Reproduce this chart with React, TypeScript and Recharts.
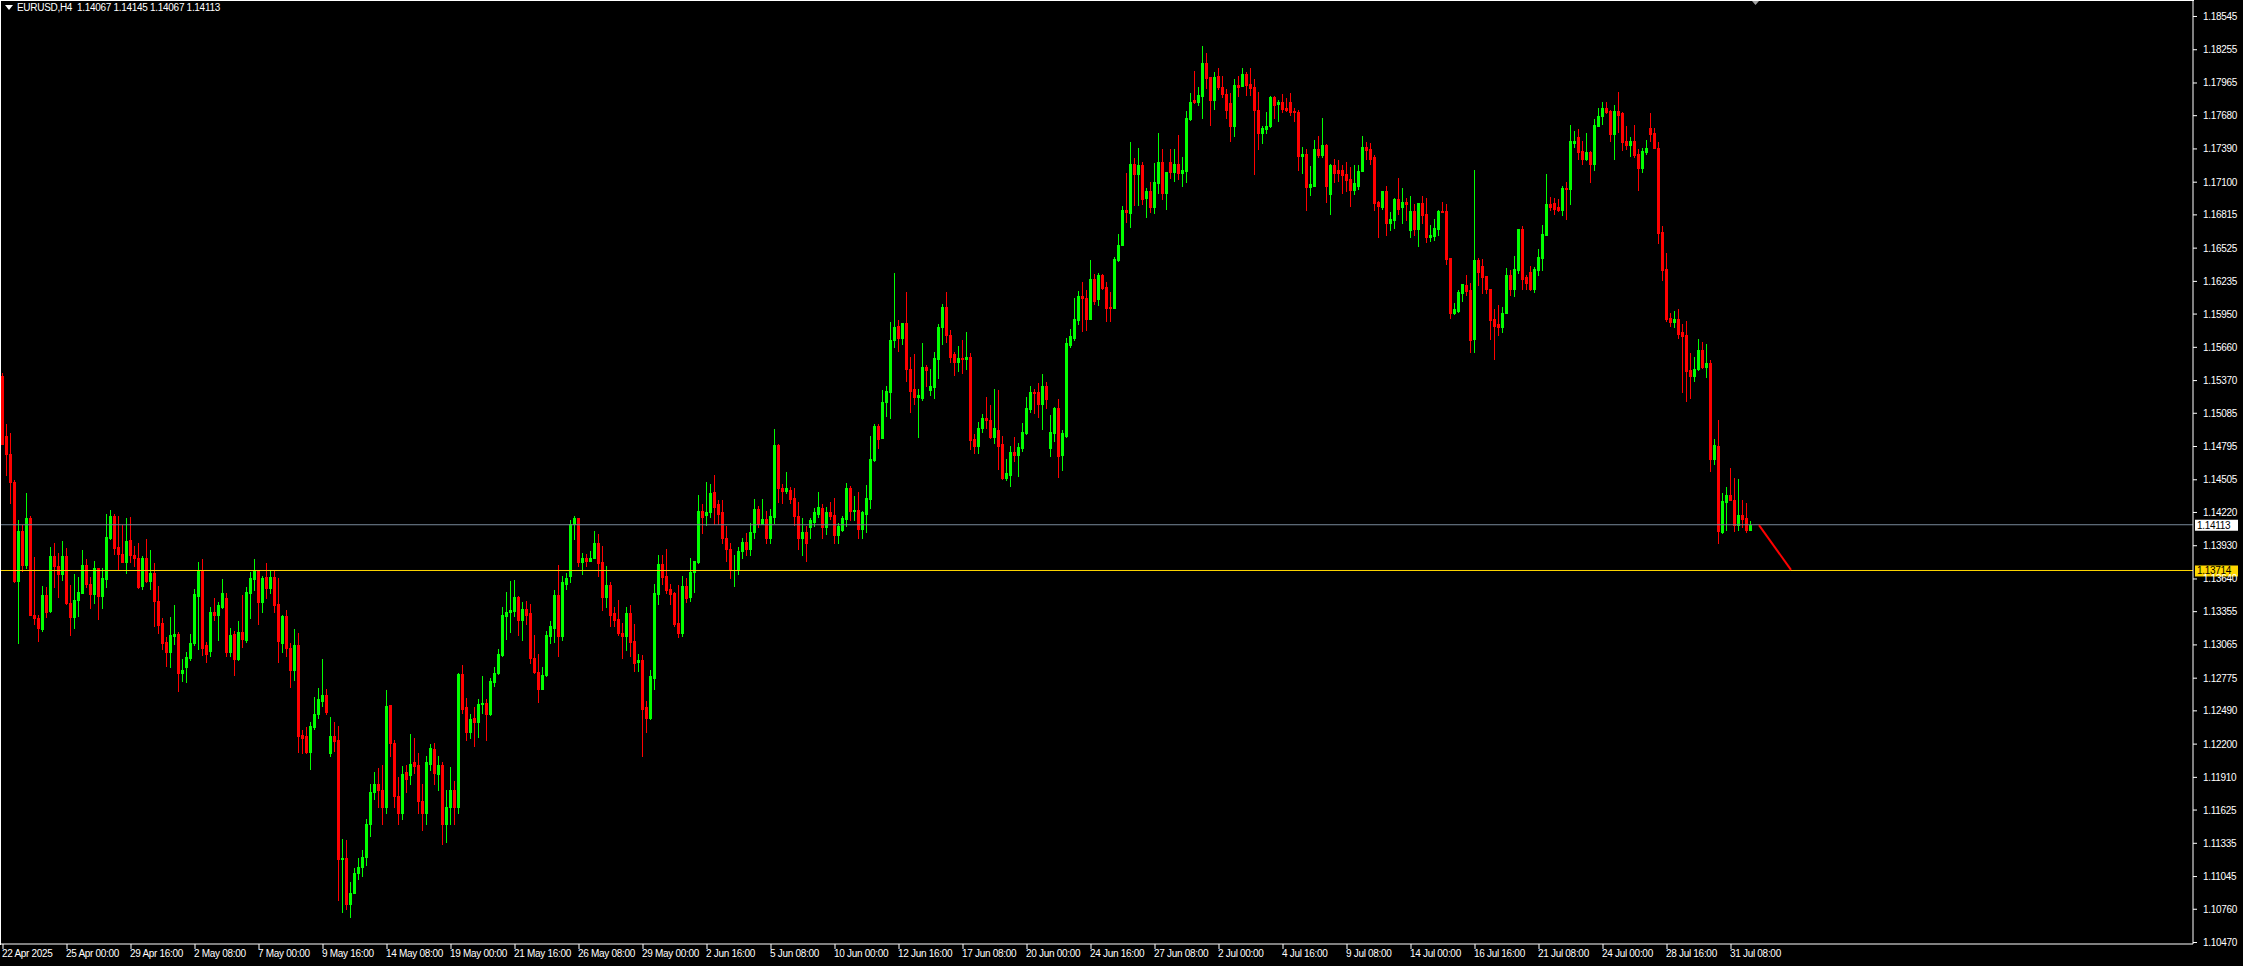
import React from 'react'
import { ComposedChart, Bar, XAxis, YAxis, ReferenceLine, ReferenceDot } from 'recharts'

const W = 2243
const H = 966
const FONT = '"Liberation Sans", Arial, sans-serif'

const SYMBOL = 'EURUSD,H4'
const LAST_BAR = [1.14067, 1.14145, 1.14067, 1.14113]
const BID = 1.14113
const SUPPORT = 1.13714
const ARROW = [{ i: 439, price: 1.1411 }, { i: 447, price: 1.1372 }]
const SHIFT_MARK = 438
const Y_MIN = 1.10457
const Y_MAX = 1.1868
const SLOTS = 548

const Y_TICKS = [
  1.18545, 1.18255, 1.17965, 1.1768, 1.1739, 1.171, 1.16815, 1.16525, 1.16235, 1.1595,
  1.1566, 1.1537, 1.15085, 1.14795, 1.14505, 1.1422, 1.1393, 1.1364, 1.13355, 1.13065,
  1.12775, 1.1249, 1.122, 1.1191, 1.11625, 1.11335, 1.11045, 1.1076, 1.1047,
]

// one label every 16 bars, starting with bar 0
const DATE_LABELS = [
  '22 Apr 2025', '25 Apr 00:00', '29 Apr 16:00', '2 May 08:00', '7 May 00:00', '9 May 16:00',
  '14 May 08:00', '19 May 00:00', '21 May 16:00', '26 May 08:00', '29 May 00:00', '2 Jun 16:00',
  '5 Jun 08:00', '10 Jun 00:00', '12 Jun 16:00', '17 Jun 08:00', '20 Jun 00:00', '24 Jun 16:00',
  '27 Jun 08:00', '2 Jul 00:00', '4 Jul 16:00', '9 Jul 08:00', '14 Jul 00:00', '16 Jul 16:00',
  '21 Jul 08:00', '24 Jul 00:00', '28 Jul 16:00', '31 Jul 08:00',
]
const LABEL_STEP = 16

// [open, high, low, close], one line per trading day
const CANDLES_APR = [
  [1.1541, 1.1544, 1.1482, 1.1482], [1.1489, 1.1499, 1.1455, 1.1473], [1.1473, 1.1491, 1.1430, 1.1449], [1.1449, 1.1450, 1.1361, 1.1362],
  [1.1362, 1.1415, 1.1308, 1.1406], [1.1406, 1.1411, 1.1371, 1.1376], [1.1376, 1.1439, 1.1374, 1.1417], [1.1417, 1.1419, 1.1333, 1.1333], [1.1333, 1.1383, 1.1325, 1.1330], [1.1330, 1.1333, 1.1310, 1.1321],
  [1.1320, 1.1358, 1.1319, 1.1350], [1.1350, 1.1357, 1.1331, 1.1335], [1.1336, 1.1392, 1.1335, 1.1384], [1.1384, 1.1395, 1.1357, 1.1375], [1.1375, 1.1387, 1.1348, 1.1368], [1.1368, 1.1397, 1.1363, 1.1384],
  [1.1384, 1.1391, 1.1342, 1.1343], [1.1343, 1.1359, 1.1315, 1.1331], [1.1331, 1.1368, 1.1321, 1.1346], [1.1346, 1.1366, 1.1332, 1.1353], [1.1352, 1.1389, 1.1352, 1.1376], [1.1376, 1.1381, 1.1357, 1.1360],
  [1.1360, 1.1366, 1.1339, 1.1351], [1.1351, 1.1380, 1.1343, 1.1374], [1.1374, 1.1374, 1.1329, 1.1349], [1.1349, 1.1374, 1.1339, 1.1365], [1.1364, 1.1421, 1.1357, 1.1401], [1.1400, 1.1424, 1.1399, 1.1419],
  [1.1419, 1.1421, 1.1386, 1.1391], [1.1392, 1.1419, 1.1373, 1.1386], [1.1386, 1.1411, 1.1379, 1.1379], [1.1379, 1.1417, 1.1369, 1.1397], [1.1398, 1.1418, 1.1379, 1.1385], [1.1385, 1.1393, 1.1375, 1.1382],
  [1.1382, 1.1395, 1.1356, 1.1357], [1.1358, 1.1384, 1.1355, 1.1382], [1.1382, 1.1399, 1.1361, 1.1362], [1.1362, 1.1389, 1.1355, 1.1369], [1.1369, 1.1378, 1.1323, 1.1345], [1.1345, 1.1358, 1.1317, 1.1324],
]

const CANDLES_MAY = [
  [1.1326, 1.1330, 1.1303, 1.1308], [1.1309, 1.1313, 1.1288, 1.1300], [1.1300, 1.1331, 1.1287, 1.1315], [1.1314, 1.1341, 1.1307, 1.1316], [1.1316, 1.1318, 1.1266, 1.1282], [1.1282, 1.1294, 1.1275, 1.1285],
  [1.1287, 1.1300, 1.1274, 1.1296], [1.1295, 1.1316, 1.1293, 1.1308], [1.1308, 1.1355, 1.1306, 1.1351], [1.1349, 1.1379, 1.1303, 1.1371], [1.1371, 1.1381, 1.1298, 1.1304], [1.1306, 1.1309, 1.1292, 1.1299],
  [1.1301, 1.1340, 1.1297, 1.1335], [1.1335, 1.1347, 1.1328, 1.1333], [1.1333, 1.1344, 1.1311, 1.1341], [1.1340, 1.1364, 1.1339, 1.1352], [1.1347, 1.1352, 1.1297, 1.1300], [1.1300, 1.1321, 1.1297, 1.1315],
  [1.1316, 1.1319, 1.1280, 1.1294], [1.1294, 1.1327, 1.1293, 1.1318], [1.1318, 1.1350, 1.1305, 1.1312], [1.1311, 1.1357, 1.1309, 1.1353], [1.1352, 1.1370, 1.1330, 1.1365], [1.1364, 1.1381, 1.1354, 1.1371],
  [1.1371, 1.1372, 1.1325, 1.1344], [1.1344, 1.1367, 1.1335, 1.1365], [1.1366, 1.1378, 1.1347, 1.1356], [1.1356, 1.1372, 1.1352, 1.1366], [1.1366, 1.1371, 1.1335, 1.1341], [1.1342, 1.1365, 1.1292, 1.1310],
  [1.1308, 1.1333, 1.1300, 1.1332], [1.1332, 1.1337, 1.1297, 1.1304], [1.1304, 1.1308, 1.1270, 1.1285], [1.1285, 1.1320, 1.1276, 1.1306], [1.1306, 1.1317, 1.1213, 1.1227], [1.1228, 1.1232, 1.1212, 1.1225],
  [1.1227, 1.1235, 1.1212, 1.1213], [1.1213, 1.1239, 1.1198, 1.1236], [1.1235, 1.1261, 1.1233, 1.1246], [1.1246, 1.1269, 1.1243, 1.1259], [1.1258, 1.1294, 1.1253, 1.1263], [1.1263, 1.1268, 1.1246, 1.1248],
  [1.1212, 1.1244, 1.1210, 1.1227], [1.1227, 1.1239, 1.1214, 1.1223], [1.1224, 1.1236, 1.1084, 1.1120], [1.1120, 1.1137, 1.1074, 1.1121], [1.1121, 1.1136, 1.1076, 1.1081], [1.1081, 1.1100, 1.1069, 1.1090],
  [1.1090, 1.1112, 1.1090, 1.1108], [1.1108, 1.1121, 1.1102, 1.1113], [1.1113, 1.1128, 1.1105, 1.1122], [1.1122, 1.1155, 1.1115, 1.1150], [1.1150, 1.1185, 1.1140, 1.1178], [1.1178, 1.1196, 1.1172, 1.1185],
  [1.1185, 1.1199, 1.1165, 1.1180], [1.1180, 1.1202, 1.1150, 1.1165], [1.1165, 1.1267, 1.1160, 1.1253], [1.1254, 1.1254, 1.1210, 1.1221], [1.1221, 1.1224, 1.1165, 1.1175], [1.1175, 1.1191, 1.1150, 1.1160],
  [1.1160, 1.1201, 1.1155, 1.1194], [1.1196, 1.1202, 1.1178, 1.1190], [1.1193, 1.1229, 1.1185, 1.1203], [1.1204, 1.1225, 1.1195, 1.1201], [1.1202, 1.1212, 1.1160, 1.1170], [1.1170, 1.1185, 1.1145, 1.1160],
  [1.1160, 1.1210, 1.1150, 1.1204], [1.1203, 1.1220, 1.1197, 1.1217], [1.1216, 1.1221, 1.1185, 1.1195], [1.1194, 1.1210, 1.1180, 1.1202], [1.1202, 1.1204, 1.1133, 1.1150], [1.1150, 1.1180, 1.1135, 1.1165],
  [1.1165, 1.1200, 1.1150, 1.1180], [1.1180, 1.1188, 1.1150, 1.1165], [1.1165, 1.1282, 1.1160, 1.1281], [1.1281, 1.1289, 1.1247, 1.1251], [1.1252, 1.1260, 1.1224, 1.1231], [1.1231, 1.1246, 1.1225, 1.1242],
  [1.1243, 1.1252, 1.1218, 1.1239], [1.1239, 1.1259, 1.1226, 1.1255], [1.1255, 1.1279, 1.1247, 1.1256], [1.1256, 1.1259, 1.1224, 1.1246], [1.1246, 1.1278, 1.1245, 1.1275], [1.1274, 1.1287, 1.1271, 1.1282],
  [1.1282, 1.1303, 1.1281, 1.1299], [1.1298, 1.1340, 1.1297, 1.1333], [1.1332, 1.1353, 1.1312, 1.1335], [1.1335, 1.1362, 1.1318, 1.1337], [1.1336, 1.1363, 1.1332, 1.1348], [1.1348, 1.1349, 1.1315, 1.1328],
  [1.1328, 1.1344, 1.1311, 1.1338], [1.1338, 1.1345, 1.1325, 1.1333], [1.1334, 1.1342, 1.1291, 1.1295], [1.1295, 1.1315, 1.1282, 1.1283], [1.1283, 1.1299, 1.1257, 1.1268], [1.1268, 1.1287, 1.1268, 1.1280],
  [1.1280, 1.1319, 1.1279, 1.1315], [1.1314, 1.1327, 1.1308, 1.1323], [1.1321, 1.1354, 1.1309, 1.1350], [1.1350, 1.1376, 1.1297, 1.1314], [1.1314, 1.1367, 1.1311, 1.1361], [1.1360, 1.1369, 1.1355, 1.1365],
  [1.1367, 1.1415, 1.1361, 1.1412], [1.1412, 1.1419, 1.1399, 1.1417], [1.1417, 1.1417, 1.1375, 1.1379], [1.1379, 1.1387, 1.1368, 1.1382], [1.1382, 1.1386, 1.1375, 1.1380], [1.1380, 1.1388, 1.1380, 1.1382],
  [1.1382, 1.1406, 1.1382, 1.1395], [1.1395, 1.1403, 1.1367, 1.1378], [1.1379, 1.1393, 1.1337, 1.1348], [1.1348, 1.1375, 1.1340, 1.1359], [1.1359, 1.1361, 1.1323, 1.1333], [1.1334, 1.1340, 1.1323, 1.1328],
  [1.1329, 1.1346, 1.1315, 1.1317], [1.1317, 1.1326, 1.1295, 1.1314], [1.1314, 1.1340, 1.1302, 1.1334], [1.1334, 1.1341, 1.1297, 1.1309], [1.1310, 1.1325, 1.1284, 1.1291], [1.1292, 1.1299, 1.1284, 1.1293],
  [1.1293, 1.1298, 1.1210, 1.1251], [1.1252, 1.1258, 1.1231, 1.1243], [1.1243, 1.1285, 1.1242, 1.1279], [1.1278, 1.1360, 1.1268, 1.1352], [1.1351, 1.1385, 1.1342, 1.1377], [1.1377, 1.1385, 1.1360, 1.1366],
  [1.1367, 1.1390, 1.1352, 1.1354], [1.1355, 1.1360, 1.1342, 1.1351], [1.1352, 1.1353, 1.1323, 1.1325], [1.1326, 1.1359, 1.1313, 1.1317], [1.1317, 1.1367, 1.1314, 1.1358], [1.1358, 1.1365, 1.1344, 1.1347],
]

const CANDLES_JUN = [
  [1.1348, 1.1382, 1.1345, 1.1370], [1.1370, 1.1380, 1.1353, 1.1380], [1.1379, 1.1437, 1.1378, 1.1423], [1.1423, 1.1429, 1.1404, 1.1418], [1.1420, 1.1449, 1.1411, 1.1422], [1.1422, 1.1447, 1.1418, 1.1439],
  [1.1440, 1.1455, 1.1412, 1.1427], [1.1429, 1.1433, 1.1412, 1.1421], [1.1422, 1.1433, 1.1395, 1.1400], [1.1400, 1.1410, 1.1380, 1.1390], [1.1390, 1.1395, 1.1365, 1.1372], [1.1372, 1.1385, 1.1358, 1.1372],
  [1.1372, 1.1392, 1.1368, 1.1388], [1.1388, 1.1400, 1.1382, 1.1396], [1.1396, 1.1404, 1.1385, 1.1390], [1.1390, 1.1413, 1.1385, 1.1405], [1.1405, 1.1434, 1.1400, 1.1425], [1.1425, 1.1428, 1.1409, 1.1412],
  [1.1412, 1.1434, 1.1412, 1.1416], [1.1416, 1.1423, 1.1395, 1.1400], [1.1400, 1.1425, 1.1395, 1.1419], [1.1418, 1.1495, 1.1413, 1.1481], [1.1481, 1.1482, 1.1431, 1.1443], [1.1443, 1.1447, 1.1430, 1.1441],
  [1.1441, 1.1457, 1.1439, 1.1443], [1.1442, 1.1444, 1.1430, 1.1434], [1.1435, 1.1443, 1.1411, 1.1419], [1.1419, 1.1431, 1.1390, 1.1400], [1.1400, 1.1417, 1.1385, 1.1405], [1.1405, 1.1410, 1.1380, 1.1395],
  [1.1409, 1.1417, 1.1400, 1.1415], [1.1414, 1.1426, 1.1410, 1.1422], [1.1421, 1.1440, 1.1418, 1.1427], [1.1426, 1.1429, 1.1400, 1.1409], [1.1409, 1.1427, 1.1403, 1.1422], [1.1422, 1.1431, 1.1416, 1.1419],
  [1.1420, 1.1435, 1.1395, 1.1402], [1.1402, 1.1413, 1.1395, 1.1410], [1.1407, 1.1419, 1.1406, 1.1417], [1.1416, 1.1448, 1.1410, 1.1443], [1.1443, 1.1445, 1.1415, 1.1423], [1.1423, 1.1436, 1.1415, 1.1424],
  [1.1424, 1.1440, 1.1400, 1.1408], [1.1408, 1.1423, 1.1400, 1.1422], [1.1421, 1.1446, 1.1405, 1.1435], [1.1434, 1.1489, 1.1426, 1.1469], [1.1468, 1.1499, 1.1467, 1.1497], [1.1497, 1.1499, 1.1478, 1.1486],
  [1.1487, 1.1529, 1.1487, 1.1518], [1.1518, 1.1532, 1.1506, 1.1528], [1.1527, 1.1588, 1.1504, 1.1572], [1.1572, 1.1631, 1.1566, 1.1584], [1.1585, 1.1590, 1.1563, 1.1574], [1.1574, 1.1587, 1.1569, 1.1587],
  [1.1587, 1.1614, 1.1537, 1.1547], [1.1547, 1.1558, 1.1510, 1.1528], [1.1530, 1.1560, 1.1517, 1.1523], [1.1523, 1.1530, 1.1488, 1.1524], [1.1522, 1.1570, 1.1520, 1.1549], [1.1549, 1.1551, 1.1532, 1.1546],
  [1.1529, 1.1547, 1.1524, 1.1532], [1.1531, 1.1562, 1.1522, 1.1557], [1.1556, 1.1586, 1.1539, 1.1584], [1.1584, 1.1604, 1.1569, 1.1601], [1.1601, 1.1614, 1.1571, 1.1577], [1.1577, 1.1581, 1.1553, 1.1558],
  [1.1560, 1.1562, 1.1542, 1.1553], [1.1553, 1.1567, 1.1545, 1.1557], [1.1557, 1.1572, 1.1544, 1.1556], [1.1556, 1.1579, 1.1547, 1.1558], [1.1558, 1.1561, 1.1477, 1.1485], [1.1486, 1.1490, 1.1474, 1.1480],
  [1.1480, 1.1501, 1.1474, 1.1496], [1.1496, 1.1508, 1.1492, 1.1504], [1.1504, 1.1523, 1.1496, 1.1503], [1.1503, 1.1516, 1.1487, 1.1488], [1.1488, 1.1530, 1.1483, 1.1496], [1.1494, 1.1529, 1.1460, 1.1480],
  [1.1482, 1.1489, 1.1451, 1.1452], [1.1452, 1.1469, 1.1450, 1.1456], [1.1455, 1.1480, 1.1445, 1.1475], [1.1475, 1.1488, 1.1467, 1.1472], [1.1472, 1.1483, 1.1454, 1.1479], [1.1478, 1.1500, 1.1476, 1.1492],
  [1.1491, 1.1523, 1.1490, 1.1513], [1.1512, 1.1532, 1.1510, 1.1527], [1.1527, 1.1530, 1.1509, 1.1526], [1.1527, 1.1535, 1.1505, 1.1517], [1.1517, 1.1543, 1.1495, 1.1532], [1.1532, 1.1536, 1.1513, 1.1521],
  [1.1478, 1.1507, 1.1471, 1.1492], [1.1491, 1.1514, 1.1484, 1.1513], [1.1513, 1.1521, 1.1453, 1.1471], [1.1472, 1.1494, 1.1459, 1.1491], [1.1489, 1.1574, 1.1488, 1.1570], [1.1568, 1.1582, 1.1566, 1.1576],
  [1.1574, 1.1609, 1.1572, 1.1591], [1.1590, 1.1615, 1.1586, 1.1611], [1.1611, 1.1623, 1.1580, 1.1609], [1.1609, 1.1616, 1.1581, 1.1591], [1.1591, 1.1642, 1.1591, 1.1626], [1.1626, 1.1630, 1.1604, 1.1606],
  [1.1608, 1.1631, 1.1603, 1.1629], [1.1629, 1.1630, 1.1617, 1.1618], [1.1619, 1.1623, 1.1589, 1.1600], [1.1601, 1.1614, 1.1589, 1.1600], [1.1600, 1.1645, 1.1600, 1.1643], [1.1642, 1.1665, 1.1641, 1.1655],
  [1.1655, 1.1689, 1.1655, 1.1686], [1.1686, 1.1718, 1.1675, 1.1684], [1.1683, 1.1745, 1.1671, 1.1726], [1.1726, 1.1731, 1.1690, 1.1717], [1.1717, 1.1740, 1.1690, 1.1725], [1.1725, 1.1728, 1.1691, 1.1695],
  [1.1696, 1.1705, 1.1680, 1.1702], [1.1702, 1.1710, 1.1684, 1.1688], [1.1688, 1.1727, 1.1683, 1.1710], [1.1709, 1.1753, 1.1701, 1.1728], [1.1728, 1.1739, 1.1695, 1.1701], [1.1701, 1.1719, 1.1687, 1.1719],
  [1.1728, 1.1739, 1.1714, 1.1719], [1.1719, 1.1739, 1.1711, 1.1726], [1.1726, 1.1751, 1.1713, 1.1718], [1.1718, 1.1732, 1.1707, 1.1721], [1.1720, 1.1772, 1.1710, 1.1766], [1.1765, 1.1788, 1.1764, 1.1780],
]

const CANDLES_JUL = [
  [1.1782, 1.1807, 1.1779, 1.1780], [1.1780, 1.1793, 1.1777, 1.1786], [1.1785, 1.1829, 1.1766, 1.1814], [1.1814, 1.1823, 1.1792, 1.1801], [1.1802, 1.1802, 1.1760, 1.1782], [1.1782, 1.1806, 1.1774, 1.1802],
  [1.1803, 1.1810, 1.1791, 1.1793], [1.1793, 1.1803, 1.1784, 1.1787], [1.1787, 1.1791, 1.1766, 1.1773], [1.1779, 1.1788, 1.1746, 1.1759], [1.1759, 1.1800, 1.1750, 1.1795], [1.1795, 1.1803, 1.1785, 1.1793],
  [1.1794, 1.1810, 1.1794, 1.1804], [1.1804, 1.1806, 1.1786, 1.1795], [1.1796, 1.1810, 1.1786, 1.1792], [1.1793, 1.1800, 1.1717, 1.1773], [1.1773, 1.1789, 1.1739, 1.1753], [1.1753, 1.1759, 1.1744, 1.1757],
  [1.1756, 1.1771, 1.1753, 1.1759], [1.1759, 1.1785, 1.1758, 1.1784], [1.1784, 1.1785, 1.1766, 1.1777], [1.1778, 1.1782, 1.1763, 1.1780], [1.1780, 1.1787, 1.1771, 1.1774], [1.1775, 1.1783, 1.1772, 1.1773],
  [1.1780, 1.1788, 1.1769, 1.1771], [1.1772, 1.1775, 1.1763, 1.1771], [1.1771, 1.1773, 1.1721, 1.1733], [1.1733, 1.1741, 1.1718, 1.1735], [1.1735, 1.1739, 1.1686, 1.1706], [1.1706, 1.1724, 1.1699, 1.1708],
  [1.1707, 1.1747, 1.1707, 1.1739], [1.1739, 1.1750, 1.1732, 1.1734], [1.1734, 1.1766, 1.1732, 1.1742], [1.1742, 1.1743, 1.1693, 1.1707], [1.1700, 1.1726, 1.1682, 1.1725], [1.1725, 1.1730, 1.1710, 1.1718],
  [1.1721, 1.1729, 1.1711, 1.1718], [1.1721, 1.1725, 1.1701, 1.1716], [1.1717, 1.1728, 1.1702, 1.1712], [1.1713, 1.1723, 1.1689, 1.1703], [1.1703, 1.1725, 1.1700, 1.1709], [1.1707, 1.1725, 1.1704, 1.1720],
  [1.1720, 1.1750, 1.1720, 1.1741], [1.1741, 1.1745, 1.1730, 1.1738], [1.1739, 1.1744, 1.1726, 1.1730], [1.1732, 1.1734, 1.1686, 1.1692], [1.1693, 1.1694, 1.1662, 1.1689], [1.1688, 1.1702, 1.1687, 1.1702],
  [1.1702, 1.1707, 1.1664, 1.1674], [1.1674, 1.1684, 1.1668, 1.1678], [1.1677, 1.1696, 1.1670, 1.1695], [1.1695, 1.1714, 1.1682, 1.1687], [1.1688, 1.1705, 1.1674, 1.1693], [1.1693, 1.1696, 1.1677, 1.1691],
  [1.1668, 1.1698, 1.1662, 1.1685], [1.1685, 1.1691, 1.1664, 1.1669], [1.1669, 1.1692, 1.1654, 1.1692], [1.1692, 1.1698, 1.1674, 1.1681], [1.1682, 1.1696, 1.1658, 1.1662], [1.1662, 1.1673, 1.1659, 1.1664],
  [1.1663, 1.1678, 1.1660, 1.1670], [1.1669, 1.1686, 1.1664, 1.1685], [1.1685, 1.1693, 1.1684, 1.1684], [1.1685, 1.1691, 1.1639, 1.1643], [1.1644, 1.1644, 1.1592, 1.1596], [1.1596, 1.1605, 1.1595, 1.1599],
  [1.1598, 1.1616, 1.1597, 1.1614], [1.1613, 1.1621, 1.1606, 1.1621], [1.1620, 1.1629, 1.1612, 1.1615], [1.1616, 1.1622, 1.1562, 1.1572], [1.1573, 1.1721, 1.1562, 1.1642], [1.1642, 1.1644, 1.1620, 1.1632],
  [1.1637, 1.1643, 1.1613, 1.1627], [1.1628, 1.1628, 1.1613, 1.1617], [1.1617, 1.1617, 1.1573, 1.1590], [1.1591, 1.1599, 1.1556, 1.1585], [1.1586, 1.1603, 1.1577, 1.1584], [1.1584, 1.1601, 1.1579, 1.1596],
  [1.1596, 1.1635, 1.1596, 1.1629], [1.1629, 1.1633, 1.1612, 1.1617], [1.1617, 1.1646, 1.1611, 1.1634], [1.1633, 1.1669, 1.1631, 1.1669], [1.1669, 1.1672, 1.1617, 1.1626], [1.1627, 1.1629, 1.1617, 1.1622],
  [1.1632, 1.1637, 1.1616, 1.1617], [1.1617, 1.1636, 1.1614, 1.1634], [1.1633, 1.1652, 1.1629, 1.1645], [1.1644, 1.1673, 1.1633, 1.1665], [1.1664, 1.1717, 1.1664, 1.1691], [1.1691, 1.1697, 1.1686, 1.1688],
  [1.1692, 1.1696, 1.1682, 1.1687], [1.1688, 1.1695, 1.1685, 1.1686], [1.1686, 1.1707, 1.1681, 1.1705], [1.1705, 1.1710, 1.1678, 1.1704], [1.1704, 1.1760, 1.1691, 1.1746], [1.1744, 1.1755, 1.1741, 1.1746],
  [1.1749, 1.1756, 1.1730, 1.1736], [1.1737, 1.1746, 1.1726, 1.1730], [1.1730, 1.1753, 1.1729, 1.1736], [1.1736, 1.1737, 1.1710, 1.1726], [1.1726, 1.1765, 1.1721, 1.1760], [1.1759, 1.1775, 1.1759, 1.1768],
  [1.1768, 1.1780, 1.1761, 1.1775], [1.1775, 1.1780, 1.1770, 1.1771], [1.1772, 1.1773, 1.1746, 1.1752], [1.1752, 1.1777, 1.1730, 1.1772], [1.1772, 1.1789, 1.1754, 1.1769], [1.1770, 1.1771, 1.1738, 1.1745],
  [1.1746, 1.1759, 1.1739, 1.1742], [1.1742, 1.1749, 1.1733, 1.1746], [1.1746, 1.1760, 1.1732, 1.1734], [1.1735, 1.1739, 1.1703, 1.1722], [1.1722, 1.1740, 1.1719, 1.1737], [1.1736, 1.1747, 1.1735, 1.1740],
  [1.1757, 1.1770, 1.1746, 1.1752], [1.1753, 1.1757, 1.1740, 1.1740], [1.1740, 1.1745, 1.1657, 1.1666], [1.1667, 1.1672, 1.1625, 1.1633], [1.1634, 1.1648, 1.1589, 1.1591], [1.1592, 1.1596, 1.1585, 1.1588],
  [1.1588, 1.1598, 1.1584, 1.1591], [1.1591, 1.1599, 1.1574, 1.1578], [1.1579, 1.1586, 1.1527, 1.1576], [1.1577, 1.1589, 1.1519, 1.1545], [1.1546, 1.1561, 1.1522, 1.1541], [1.1541, 1.1558, 1.1537, 1.1547],
  [1.1547, 1.1573, 1.1546, 1.1564], [1.1564, 1.1571, 1.1548, 1.1549], [1.1549, 1.1569, 1.1540, 1.1552], [1.1552, 1.1555, 1.1458, 1.1469], [1.1469, 1.1486, 1.1464, 1.1481], [1.1480, 1.1503, 1.1395, 1.1406],
  [1.1405, 1.1439, 1.1404, 1.1432], [1.1431, 1.1444, 1.1407, 1.1437], [1.1437, 1.1461, 1.1433, 1.1433], [1.1433, 1.1452, 1.1406, 1.1411], [1.1411, 1.1451, 1.1407, 1.1420], [1.1420, 1.1433, 1.1409, 1.1416],
  [1.1417, 1.1430, 1.1405, 1.1407], LAST_BAR,
]

const candles = [...CANDLES_APR, ...CANDLES_MAY, ...CANDLES_JUN, ...CANDLES_JUL]

const rows = Array.from({ length: SLOTS }, (_, i) => {
  const c = candles[i]
  return c ? { i, o: c[0], h: c[1], l: c[2], c: c[3] } : { i }
})

const LABEL_IDX = DATE_LABELS.map((_, k) => k * LABEL_STEP)
const labelOf = new Map(LABEL_IDX.map((v, k) => [v, DATE_LABELS[k]]))

function Candle(props: any) {
  const { x, y, height, payload } = props
  if (!payload || payload.o == null || y == null || isNaN(y)) return <g />
  const { o, h, l, c } = payload
  const k = h > l ? height / (h - l) : 0
  const py = (v: number) => y + (h - v) * k
  const color = c >= o ? '#00ff00' : '#ff0000'
  const left = Math.round(x)
  const wTop = Math.round(y)
  const wBot = Math.round(y + height)
  const bTop = Math.round(py(Math.max(o, c)))
  const bBot = Math.round(py(Math.min(o, c)))
  return (
    <g>
      <rect x={left + 1} y={wTop} width={1} height={Math.max(1, wBot - wTop + 1)} fill={color} />
      <rect x={left} y={bTop} width={3} height={Math.max(1, bBot - bTop + 1)} fill={color} />
    </g>
  )
}

function XTick(props: any) {
  const { x, payload } = props
  const text = labelOf.get(Number(payload.value))
  if (!text) return null
  return (
    <text x={x - 1} y={957} fill="#fff" fontSize={10} fontFamily={FONT} letterSpacing={-0.3} textAnchor="start">
      {text}
    </text>
  )
}

function YTick(props: any) {
  const { x, y, payload } = props
  return (
    <text x={x + 2} y={y + 3.5} fill="#fff" fontSize={10} fontFamily={FONT} letterSpacing={-0.3} textAnchor="start">
      {Number(payload.value).toFixed(5)}
    </text>
  )
}

const priceTag = (price: number, bg: string) => (props: any) => {
  const vb = props.viewBox || {}
  const x0 = (vb.x || 0) + (vb.width || 0) + 2
  const yc = vb.y || 0
  return (
    <g>
      <rect x={x0} y={yc - 5} width={43} height={11} fill={bg} />
      <text x={x0 + 2} y={yc + 4} fill="#000" fontSize={10} fontFamily={FONT} letterSpacing={-0.3}>
        {price.toFixed(5)}
      </text>
    </g>
  )
}

const ShiftMark = (props: any) => (
  <polygon points={`${props.cx - 3},1 ${props.cx + 4},1 ${props.cx + 0.5},5`} fill="#a0a0a0" />
)

export default function App() {
  return (
    <div style={{ position: 'relative', width: W, height: H, background: '#000', overflow: 'hidden' }}>
      <style>{'body{margin:0;background:#000}'}</style>
      <ComposedChart
        width={W}
        height={H}
        data={rows}
        margin={{ top: 1, right: 0, bottom: 0, left: 1 }}
        barCategoryGap={0}
        barGap={0}
      >
        <XAxis
          dataKey="i"
          type="category"
          ticks={LABEL_IDX}
          interval={0}
          height={22}
          axisLine={{ stroke: '#fff' }}
          tickLine={{ stroke: '#fff' }}
          tickSize={5}
          tick={<XTick />}
        />
        <YAxis
          orientation="right"
          type="number"
          domain={[Y_MIN, Y_MAX]}
          allowDataOverflow
          ticks={Y_TICKS}
          interval={0}
          width={50}
          axisLine={{ stroke: '#fff' }}
          tickLine={{ stroke: '#fff' }}
          tickSize={4}
          tickMargin={4}
          tick={<YTick />}
        />
        <Bar dataKey={(d: any) => (d.o == null ? null : [d.l, d.h])} shape={Candle} isAnimationActive={false} />
        <ReferenceLine y={BID} stroke="#778899" strokeWidth={1} label={priceTag(BID, '#ffffff')} />
        <ReferenceLine y={SUPPORT} stroke="#ffd700" strokeWidth={1} label={priceTag(SUPPORT, '#ffd700')} />
        <ReferenceLine
          segment={[{ x: ARROW[0].i, y: ARROW[0].price }, { x: ARROW[1].i, y: ARROW[1].price }]}
          stroke="#ff0000"
          strokeWidth={2}
        />
        <ReferenceDot x={SHIFT_MARK} y={Y_MAX} r={3} shape={ShiftMark} />
      </ComposedChart>
      <div
        style={{
          position: 'absolute', left: 0, top: 0, width: 2194, height: 945,
          borderTop: '1px solid #fff', borderLeft: '1px solid #fff', boxSizing: 'border-box', pointerEvents: 'none',
        }}
      />
      <div
        style={{
          position: 'absolute', left: 5, top: 2, color: '#fff', fontFamily: FONT, fontSize: 10,
          letterSpacing: -0.3, whiteSpace: 'pre', display: 'flex', alignItems: 'center',
        }}
      >
        <svg width={8} height={6} style={{ marginRight: 4 }}>
          <polygon points="0,0 8,0 4,5" fill="#fff" />
        </svg>
        {`${SYMBOL}  ${LAST_BAR.map((v) => v.toFixed(5)).join(' ')}`}
      </div>
    </div>
  )
}
